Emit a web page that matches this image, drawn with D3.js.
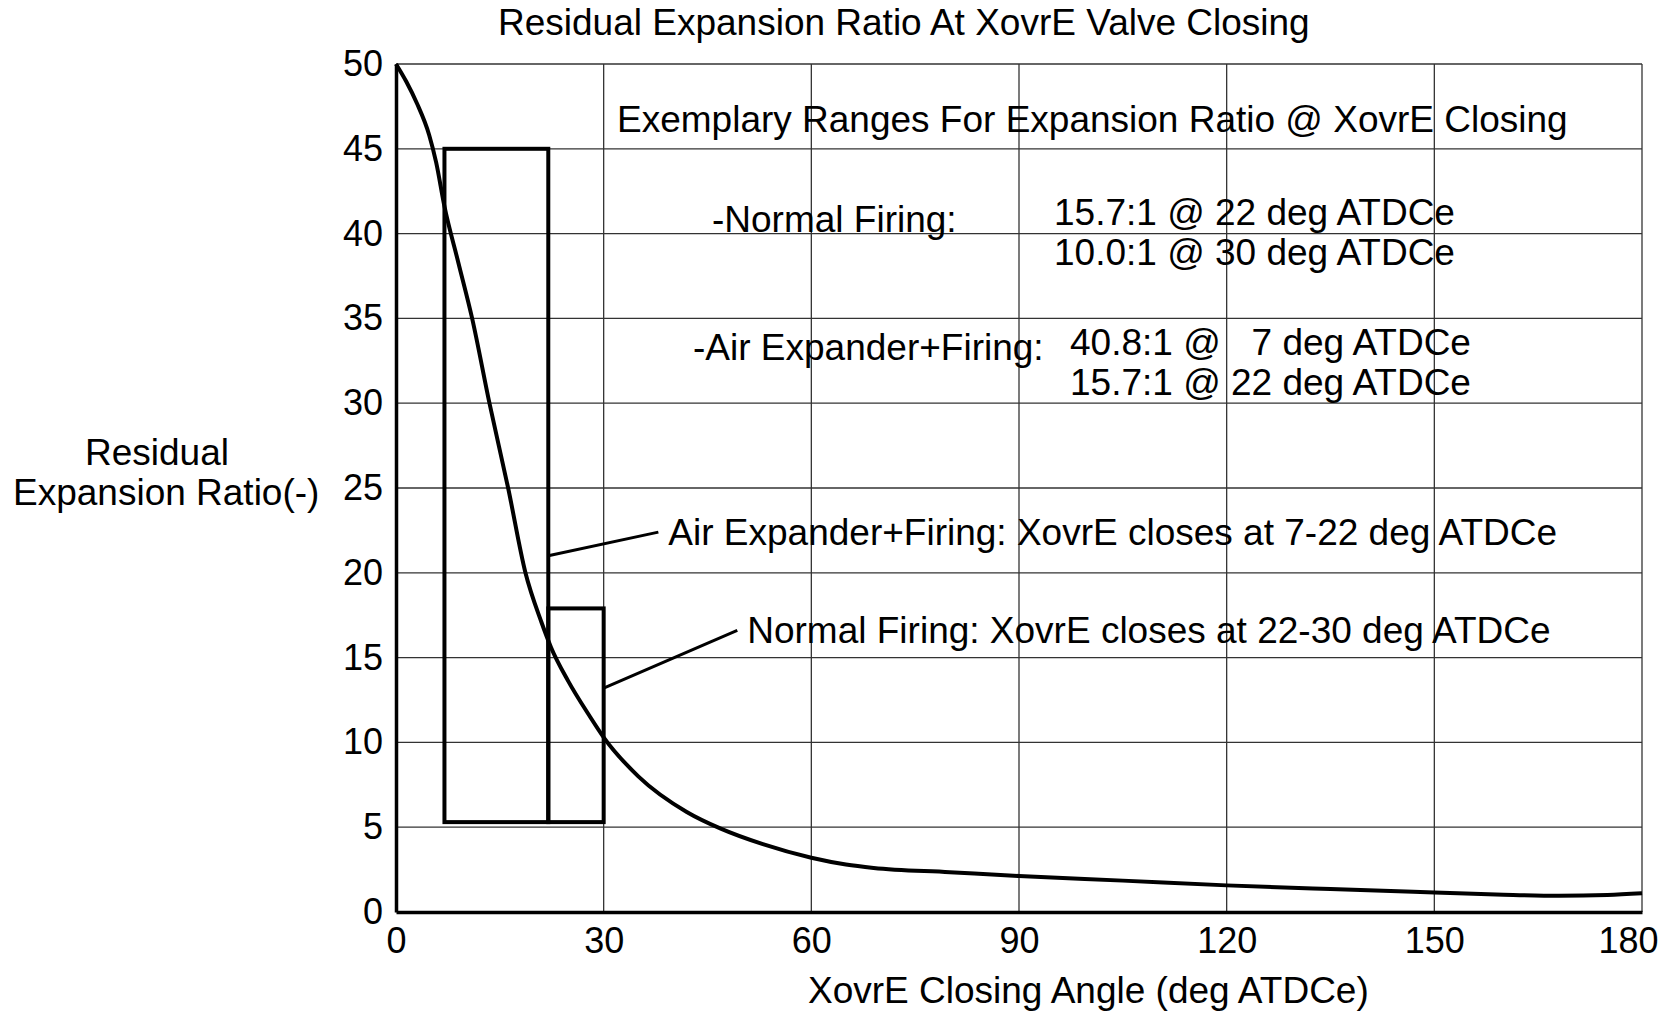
<!DOCTYPE html>
<html>
<head>
<meta charset="utf-8">
<script src="https://cdnjs.cloudflare.com/ajax/libs/d3/7.8.5/d3.min.js"></script>
<style>
  body { margin: 0; background: #fff; }
  text { font-family: "Liberation Sans", Arial, sans-serif; fill: #000; }
</style>
</head>
<body>
<div id="chart"></div>
<script>
// residual expansion ratio vs. closing angle
var angle = [0, 1.5, 3, 4.8, 5.8, 7, 9, 11, 13.5, 16.2, 18.7, 21, 22.4, 24.9, 27.9, 30, 35, 42, 47, 53, 60, 65, 69, 80, 90, 105, 120, 135, 150, 160, 168, 175, 180];
var ratio = [50, 48.95, 47.7, 45.8, 44.2, 41.6, 38.3, 35.0, 30.0, 25.0, 20.0, 17.1, 15.6, 13.6, 11.6, 10.3, 8.0, 5.9, 4.9, 4.0, 3.2, 2.8, 2.6, 2.35, 2.12, 1.85, 1.57, 1.35, 1.15, 1.02, 0.96, 1.0, 1.1];

var xTicks = [0, 30, 60, 90, 120, 150, 180];
var yTicks = [0, 5, 10, 15, 20, 25, 30, 35, 40, 45, 50];

// closing ranges drawn as boxes
var boxFrom = [7, 22];
var boxTo = [22, 30];
var boxLow = [5.3, 5.3];
var boxHigh = [45, 17.9];

// leader lines from each box to its label
var leaderStart = [[22, 21.0], [30, 13.2]];
var leaderEnd = [[37.9, 22.4], [49.3, 16.6]];
var leaderText = ["Air Expander+Firing: XovrE closes at 7-22 deg ATDCe",
                  "Normal Firing: XovrE closes at 22-30 deg ATDCe"];

var noteTitle = "Exemplary Ranges For Expansion Ratio @ XovrE Closing";
var modeNames = ["-Normal Firing:", "-Air Expander+Firing:"];
var modeLines = [["15.7:1 @ 22 deg ATDCe", "10.0:1 @ 30 deg ATDCe"],
                 ["40.8:1 @   7 deg ATDCe", "15.7:1 @ 22 deg ATDCe"]];

var svgWidth = 1668;
var svgHeight = 1014;
var margin = { top: 64, right: 26, bottom: 102, left: 396 };
var width = svgWidth - margin.left - margin.right;
var height = svgHeight - margin.top - margin.bottom;

var svg = d3.select("#chart")
  .append("svg")
  .attr("width", svgWidth)
  .attr("height", svgHeight);

var chartGroup = svg.append("g")
  .attr("transform", `translate(${margin.left}, ${margin.top})`);

var xScale = d3.scaleLinear().domain([0, 180]).range([0, width]);
var yScale = d3.scaleLinear().domain([0, 50]).range([height, 0]);

// grid
chartGroup.append("g")
  .selectAll("line")
  .data(xTicks.slice(1))
  .enter().append("line")
  .attr("x1", d => xScale(d)).attr("x2", d => xScale(d))
  .attr("y1", 0).attr("y2", height)
  .attr("stroke", "#333").attr("stroke-width", 1.3);

chartGroup.append("g")
  .selectAll("line")
  .data(yTicks.slice(1))
  .enter().append("line")
  .attr("x1", 0).attr("x2", width)
  .attr("y1", d => yScale(d)).attr("y2", d => yScale(d))
  .attr("stroke", "#333").attr("stroke-width", 1.3);

// axes
var xAxis = d3.axisBottom(xScale).tickValues(xTicks).tickSize(0).tickPadding(15);
var yAxis = d3.axisLeft(yScale).tickValues(yTicks).tickSize(0).tickPadding(13);

var xg = chartGroup.append("g")
  .attr("transform", `translate(0, ${height})`)
  .call(xAxis);
var yg = chartGroup.append("g").call(yAxis);

[xg, yg].forEach(g => {
  g.select(".domain").attr("stroke", "#000").attr("stroke-width", 3.5);
  g.selectAll("text").attr("font-size", 36).style("font-family", '"Liberation Sans", Arial, sans-serif');
});
// keep the last x label inside the page
xg.selectAll(".tick text").filter(d => d === 180)
  .attr("text-anchor", "end").attr("dx", 16);

// boxes
var boxes = d3.range(boxFrom.length);
chartGroup.append("g")
  .selectAll("rect")
  .data(boxes)
  .enter().append("rect")
  .attr("x", i => xScale(boxFrom[i]))
  .attr("y", i => yScale(boxHigh[i]))
  .attr("width", i => xScale(boxTo[i]) - xScale(boxFrom[i]))
  .attr("height", i => yScale(boxLow[i]) - yScale(boxHigh[i]))
  .attr("fill", "none").attr("stroke", "#000").attr("stroke-width", 4);

// curve
var line = d3.line()
  .x(i => xScale(angle[i]))
  .y(i => yScale(ratio[i]))
  .curve(d3.curveMonotoneX);

chartGroup.append("path")
  .datum(d3.range(angle.length))
  .attr("d", line)
  .attr("fill", "none").attr("stroke", "#000").attr("stroke-width", 4);

// leaders and their labels
chartGroup.append("g")
  .selectAll("line")
  .data(boxes)
  .enter().append("line")
  .attr("x1", i => xScale(leaderStart[i][0])).attr("y1", i => yScale(leaderStart[i][1]))
  .attr("x2", i => xScale(leaderEnd[i][0])).attr("y2", i => yScale(leaderEnd[i][1]))
  .attr("stroke", "#000").attr("stroke-width", 3);

chartGroup.append("g")
  .selectAll("text")
  .data(boxes)
  .enter().append("text")
  .attr("x", i => xScale(leaderEnd[i][0]) + 10)
  .attr("y", i => yScale(leaderEnd[i][1]) + 13)
  .attr("font-size", 37)
  .text(i => leaderText[i]);

// note block
chartGroup.append("text")
  .attr("x", 221).attr("y", 68)
  .attr("font-size", 37)
  .text(noteTitle);

var modeY = [168, 296];
var valueX = [658, 674];
var valueY = [161, 291];
var modeX = [316, 297];

modeNames.forEach((name, i) => {
  chartGroup.append("text")
    .attr("x", modeX[i]).attr("y", modeY[i])
    .attr("font-size", 37)
    .text(name);
  modeLines[i].forEach((s, j) => {
    chartGroup.append("text")
      .attr("x", valueX[i]).attr("y", valueY[i] + j * 40)
      .attr("font-size", 37)
      .style("white-space", "pre")
      .text(s);
  });
});

// titles
svg.append("text")
  .attr("x", 498).attr("y", 35)
  .attr("font-size", 37)
  .text("Residual Expansion Ratio At XovrE Valve Closing");

svg.append("text")
  .attr("x", 808).attr("y", 1003)
  .attr("font-size", 37)
  .text("XovrE Closing Angle (deg ATDCe)");

svg.append("text")
  .attr("x", 85).attr("y", 465)
  .attr("font-size", 37)
  .text("Residual");
svg.append("text")
  .attr("x", 13).attr("y", 505)
  .attr("font-size", 37)
  .text("Expansion Ratio(-)");
</script>
</body>
</html>
